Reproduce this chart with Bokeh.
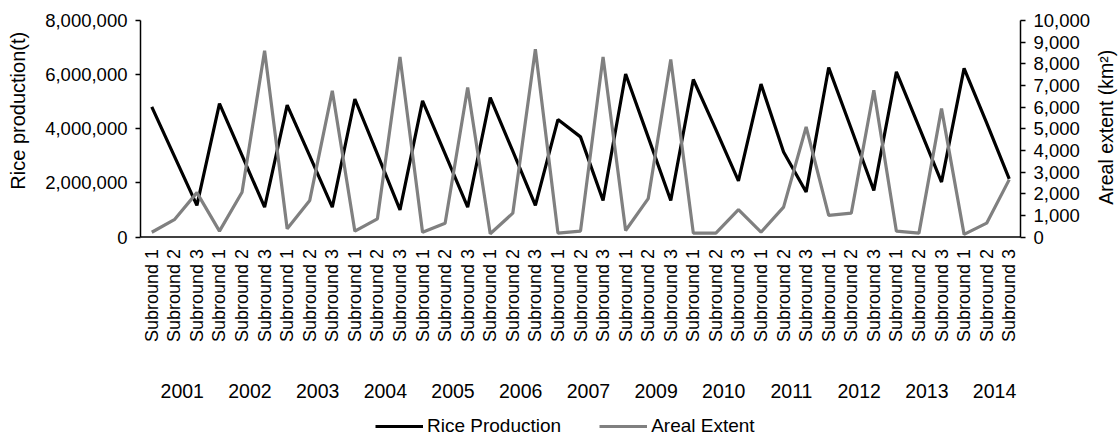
import math
from bokeh.plotting import figure
from bokeh.core.properties import value
from bokeh.models import (Range1d, LinearAxis, FixedTicker, NumeralTickFormatter,
                          Legend, LegendItem, ColumnDataSource, Label, LabelSet, Span)
from bokeh.embed import file_html
from bokeh.resources import INLINE

# Survey years and the three subrounds within each year
years = ["2001", "2002", "2003", "2004", "2005", "2006", "2007",
         "2009", "2010", "2011", "2012", "2013", "2014"]
subrounds = ["Subround 1", "Subround 2", "Subround 3"]

# Rice production (t), one value per subround
rice_production = [
    4810000, 2990000, 1170000,
    4930000, 3020000, 1100000,
    4870000, 3000000, 1100000,
    5100000, 3060000, 1000000,
    5030000, 3070000, 1100000,
    5150000, 3170000, 1170000,
    4340000, 3700000, 1350000,
    6020000, 3690000, 1350000,
    5820000, 3970000, 2070000,
    5650000, 3140000, 1660000,
    6260000, 4000000, 1720000,
    6100000, 4070000, 2030000,
    6230000, 4220000, 2150000,
]

# Areal extent (km2), one value per subround
areal_extent = [
    220, 800, 2050,
    270, 2070, 8600,
    380, 1690, 6750,
    270, 840, 8320,
    220, 640, 6910,
    150, 1100, 8670,
    180, 270, 8320,
    300, 1770, 8200,
    180, 180, 1260,
    220, 1380, 5080,
    1000, 1100, 6780,
    270, 180, 5930,
    120, 640, 2650,
]

FONT = "Liberation Sans"
RICE_MAX, AREA_MAX = 8000000, 10000

# Page geometry (pixels): the value band occupies the upper part of the frame,
# the category captions and legend sit in the strip beneath it.
FIG_H, TOP, ZERO_Y = 437, 20, 236.5
below_ratio = (FIG_H - ZERO_Y) / (ZERO_Y - TOP)

n = len(years) * len(subrounds)
xs = list(range(n))
tick_labels = [s for _ in years for s in subrounds]
# year captions sit a little right of each group's middle
year_pos = [i * len(subrounds) + 1.35 for i in range(len(years))]

src = ColumnDataSource(dict(x=xs, rice=rice_production, area=areal_extent))
sub_src = ColumnDataSource(dict(x=xs, y=[0] * n, text=tick_labels))
year_src = ColumnDataSource(dict(x=year_pos, y=[0] * len(years), text=years))

p = figure(frame_width=880, frame_height=FIG_H - TOP, output_backend="svg",
           toolbar_location=None, x_axis_location=None,
           x_range=Range1d(-0.5, n - 0.5),
           y_range=Range1d(-RICE_MAX * below_ratio, RICE_MAX),
           min_border_left=140, min_border_right=100, min_border_top=TOP,
           min_border_bottom=0)
p.extra_y_ranges = {"area": Range1d(-AREA_MAX * below_ratio, AREA_MAX)}
p.outline_line_color = None
p.grid.visible = False
p.background_fill_color = "white"
p.border_fill_color = "white"

# Left axis: rice production
ya = p.yaxis[0]
ya.ticker = FixedTicker(ticks=list(range(0, RICE_MAX + 1, 2000000)))
ya.formatter = NumeralTickFormatter(format="0,0")
ya.bounds = (0, RICE_MAX)

# Right axis: areal extent
ra = LinearAxis(y_range_name="area",
                ticker=FixedTicker(ticks=list(range(0, AREA_MAX + 1, 1000))),
                formatter=NumeralTickFormatter(format="0,0"),
                bounds=(0, AREA_MAX))
p.add_layout(ra, "right")

for ax in (ya, ra):
    ax.major_label_text_font = FONT
    ax.major_label_text_font_size = "18.5px"
    ax.major_label_text_color = "black"
    ax.major_tick_out = 5
    ax.major_tick_in = 0
    ax.minor_tick_line_color = None
    ax.axis_line_color = "black"
    ax.axis_line_width = 1.5
    ax.major_tick_line_color = "black"
    ax.major_tick_line_width = 1.5
    ax.major_label_standoff = 8

# Axis titles, both reading bottom to top, kept in the side panels
p.add_layout(Label(x=-0.5, y=RICE_MAX / 2, x_offset=-122.5, y_offset=18,
                   text="Rice production(t)", angle=math.pi / 2,
                   text_align="center", text_baseline="middle",
                   text_font=FONT, text_font_size="20px", text_color="black"),
             "left")
p.add_layout(Label(x=n - 0.5, y=RICE_MAX / 2, x_offset=85, y_offset=1.5,
                   text="Areal extent (km\u00b2)", angle=math.pi / 2,
                   text_align="center", text_baseline="middle",
                   text_font=FONT, text_font_size="19.5px", text_color="black"),
             "right")

# Category baseline along zero
p.add_layout(Span(location=0, dimension="width", line_color="black",
                  line_width=1.5))

# Subround captions, rotated, hanging under the baseline
p.add_layout(LabelSet(x="x", y="y", text="text", source=sub_src,
                      angle=math.pi / 2, y_offset=-12,
                      text_align="right", text_baseline="middle",
                      text_font=value(FONT), text_font_size=value("18px"),
                      text_color="black"))

# Year captions under each group of subrounds
p.add_layout(LabelSet(x="x", y="y", text="text", source=year_src,
                      y_offset=-153.5, text_align="center",
                      text_baseline="middle",
                      text_font=value(FONT), text_font_size=value("19.5px"),
                      text_color="black"))

r1 = p.line("x", "rice", source=src, line_color="black", line_width=3.2)
r2 = p.line("x", "area", source=src, y_range_name="area",
            line_color="#808080", line_width=3.2)

# Legend along the bottom edge
legend = Legend(items=[LegendItem(label="Rice Production", renderers=[r1]),
                       LegendItem(label="Areal Extent", renderers=[r2])],
                orientation="horizontal", location=(235, 0),
                border_line_color=None, background_fill_alpha=0,
                glyph_width=48, glyph_height=20, label_standoff=4, spacing=38,
                label_text_font=FONT, label_text_font_size="19px",
                label_text_color="black", padding=0, margin=0)
p.add_layout(legend)

open("out.html", "w").write(file_html(p, INLINE))
